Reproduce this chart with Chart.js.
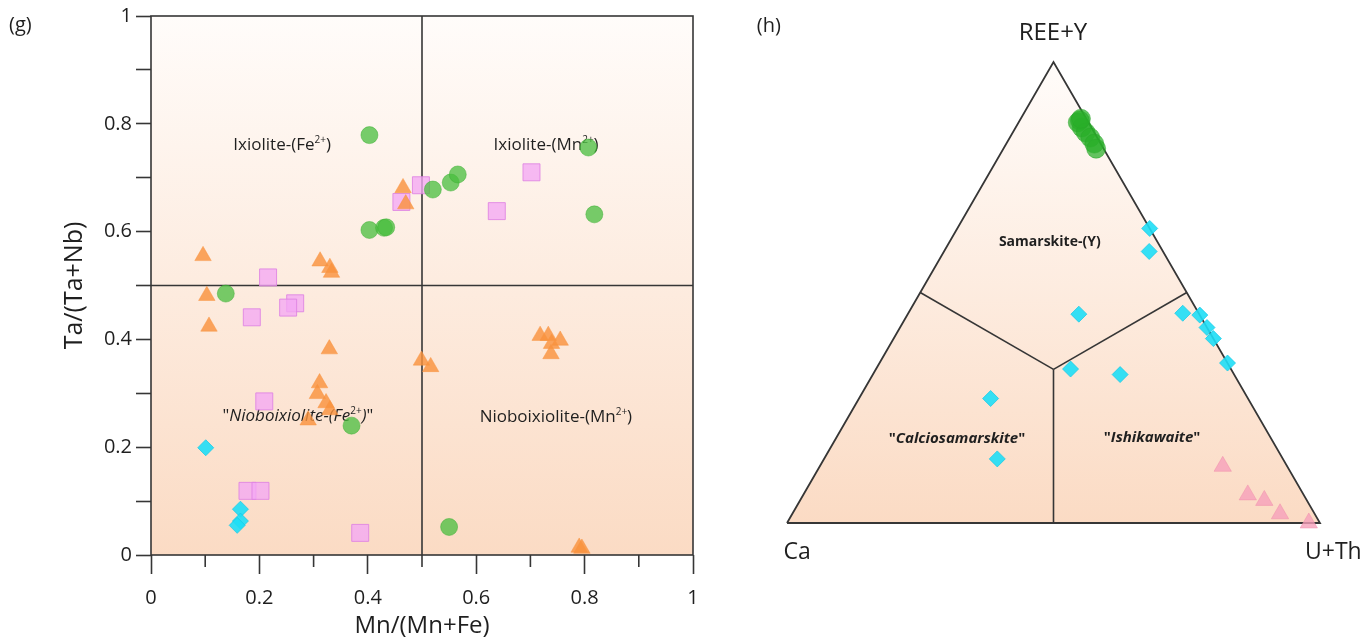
<!DOCTYPE html>
<html>
<head>
<meta charset="utf-8">
<script src="https://cdn.jsdelivr.net/npm/chart.js@4.4.1/dist/chart.umd.min.js"></script>
<style>
  html, body { margin: 0; padding: 0; background: #fff; }
  body { width: 1363px; height: 641px; position: relative; overflow: hidden; }
  #chartG { position: absolute; left: 0; top: 0; }
  #chartH { position: absolute; left: 720px; top: 0; }
</style>
</head>
<body>
<canvas id="chartG" width="720" height="641"></canvas>
<canvas id="chartH" width="643" height="641"></canvas>
<script>
// ---------- (g) data : Mn/(Mn+Fe) vs Ta/(Ta+Nb) ----------
const circleMn = [0.403, 0.520, 0.553, 0.566, 0.807, 0.818, 0.403, 0.430, 0.434, 0.138, 0.370, 0.550];
const circleTa = [0.779, 0.678, 0.691, 0.706, 0.756, 0.632, 0.603, 0.607, 0.608, 0.485, 0.240, 0.052];

const triMn = [0.465, 0.470, 0.096, 0.312, 0.330, 0.333, 0.103, 0.107, 0.329, 0.499, 0.516, 0.311,
               0.307, 0.323, 0.330, 0.290, 0.718, 0.733, 0.739, 0.755, 0.738, 0.790, 0.795];
const triTa = [0.681, 0.651, 0.555, 0.545, 0.533, 0.524, 0.481, 0.424, 0.382, 0.361, 0.349, 0.319,
               0.299, 0.282, 0.269, 0.250, 0.407, 0.407, 0.392, 0.398, 0.373, 0.014, 0.012];

const squareMn = [0.498, 0.462, 0.702, 0.638, 0.216, 0.186, 0.266, 0.253, 0.209, 0.178, 0.202, 0.386];
const squareTa = [0.686, 0.655, 0.710, 0.638, 0.515, 0.441, 0.467, 0.459, 0.285, 0.119, 0.119, 0.041];

const diamondMn = [0.101, 0.165, 0.165, 0.159];
const diamondTa = [0.199, 0.085, 0.063, 0.055];

const splitMn = 0.5;   // Fe2+ / Mn2+ boundary
const splitTa = 0.5;   // ixiolite / nioboixiolite boundary
const tickLabels = ['0', '0.2', '0.4', '0.6', '0.8', '1'];

// ---------- (h) data : Ca - (REE+Y) - (U+Th) ternary ----------
const tGreenCa  = [0.014, 0.018, 0.020, 0.016, 0.013, 0.012, 0.014, 0.010];
const tGreenREE = [0.873, 0.858, 0.869, 0.847, 0.836, 0.823, 0.812, 0.877];
const tGreenU   = [0.113, 0.124, 0.111, 0.137, 0.151, 0.165, 0.174, 0.113];

const tCyanCa  = [0.000, 0.026, 0.226, 0.030, 0.000, 0.000, 0.000, 0.000, 0.301, 0.214, 0.483, 0.536];
const tCyanREE = [0.639, 0.589, 0.453, 0.455, 0.451, 0.424, 0.400, 0.347, 0.334, 0.322, 0.270, 0.139];
const tCyanU   = [0.361, 0.385, 0.321, 0.515, 0.549, 0.576, 0.600, 0.653, 0.365, 0.464, 0.247, 0.325];

const tPinkCa  = [0.121, 0.105, 0.080, 0.065, 0.021];
const tPinkREE = [0.123, 0.061, 0.049, 0.020, 0.000];
const tPinkU   = [0.756, 0.834, 0.871, 0.915, 0.979];

// triangle corners and field boundaries, as [Ca, REE, U+Th]
const corners = [[1, 0, 0], [0, 0, 1], [0, 1, 0]];
const fieldCentre = [1 / 3, 1 / 3, 1 / 3];
const fieldEdges = [[0.5, 0.5, 0], [0, 0.5, 0.5], [0.5, 0, 0.5]];

// ---------- helpers ----------
const FONT = '"Open Sans", sans-serif';
const ink = '#1f1f1f';
const frame = '#363636';
const H = Math.sqrt(3) / 2;

const isMajor = v => Math.abs(v * 5 - Math.round(v * 5)) < 1e-6;
const tickText = v => isMajor(v) ? tickLabels[Math.round(v * 5)] : '';
const pts = (xs, ys) => xs.map((x, i) => ({ x: x, y: ys[i] }));
const tern = (ca, ree, u) => {
  const s = ca + ree + u;
  return { x: (u + ree / 2) / s, y: (ree / s) * H };
};
const ternPts = (cas, rees, us) => cas.map((c, i) => tern(c, rees[i], us[i]));

function peach(ctx, top, bottom) {
  const g = ctx.createLinearGradient(0, top, 0, bottom);
  g.addColorStop(0, 'rgb(255,252,250)');
  g.addColorStop(1, 'rgb(251,219,196)');
  return g;
}

// parts: [text, style]  style: '' normal, 'i' italic, 's' superscript
function drawRich(ctx, parts, cx, cy, size, weight) {
  const fontOf = (st) => {
    const sz = st === 's' ? Math.round(size * 0.58) : size;
    return (st === 'i' ? 'italic ' : '') + (weight || 'normal') + ' ' + sz + 'px ' + FONT;
  };
  let total = 0;
  parts.forEach(p => { ctx.font = fontOf(p[1]); total += ctx.measureText(p[0]).width; });
  let x = cx - total / 2;
  ctx.fillStyle = ink;
  ctx.textAlign = 'left';
  ctx.textBaseline = 'middle';
  parts.forEach(p => {
    ctx.font = fontOf(p[1]);
    ctx.fillText(p[0], x, p[1] === 's' ? cy - size * 0.28 : cy);
    x += ctx.measureText(p[0]).width;
  });
}

// ---------- chart (g) ----------
const gLabels = [
  { x: 0.242, y: 0.760, parts: [['Ixiolite-(Fe', ''], ['2+', 's'], [')', '']] },
  { x: 0.729, y: 0.760, parts: [['Ixiolite-(Mn', ''], ['2+', 's'], [')', '']] },
  { x: 0.271, y: 0.258, parts: [['"', ''], ['Nioboixiolite-(Fe', 'i'], ['2+', 's'], [')', 'i'], ['"', '']] },
  { x: 0.747, y: 0.256, parts: [['Nioboixiolite-(Mn', ''], ['2+', 's'], [')', '']] }
];

const gDecor = {
  id: 'gDecor',
  beforeDatasetsDraw(chart) {
    const { ctx, chartArea: a, scales } = chart;
    ctx.save();
    ctx.fillStyle = peach(ctx, a.top, a.bottom);
    ctx.fillRect(a.left, a.top, a.width, a.height);
    gLabels.forEach(l => drawRich(ctx, l.parts, scales.x.getPixelForValue(l.x), scales.y.getPixelForValue(l.y), 17));
    ctx.restore();
  },
  afterDatasetsDraw(chart) {
    const { ctx, chartArea: a, scales } = chart;
    ctx.save();
    ctx.strokeStyle = frame;
    ctx.lineWidth = 1.6;
    ctx.strokeRect(a.left, a.top, a.width, a.height);
    // short minor ticks on the x axis
    scales.x.ticks.forEach(t => {
      if (isMajor(t.value)) return;
      const px = scales.x.getPixelForValue(t.value);
      ctx.beginPath();
      ctx.moveTo(px, a.bottom);
      ctx.lineTo(px, a.bottom + 12);
      ctx.stroke();
    });
    ctx.fillStyle = ink;
    ctx.font = '20px ' + FONT;
    ctx.textAlign = 'left';
    ctx.textBaseline = 'middle';
    ctx.fillText('(g)', 9, 25);
    ctx.restore();
  }
};

new Chart(document.getElementById('chartG'), {
  type: 'scatter',
  data: {
    datasets: [
      { data: [{ x: splitMn, y: 0 }, { x: splitMn, y: 1 }], showLine: true, pointRadius: 0,
        borderColor: frame, borderWidth: 1.6, order: 10 },
      { data: [{ x: 0, y: splitTa }, { x: 1, y: splitTa }], showLine: true, pointRadius: 0,
        borderColor: frame, borderWidth: 1.6, order: 10 },
      { data: pts(squareMn, squareTa), pointStyle: 'rect', pointRadius: 12,
        backgroundColor: 'rgba(244,168,244,0.78)', borderColor: 'rgba(222,130,226,0.85)', borderWidth: 1, order: 4 },
      { data: pts(triMn, triTa), pointStyle: 'triangle', pointRadius: 9.5,
        backgroundColor: 'rgba(249,146,62,0.82)', borderColor: 'rgba(249,146,62,0.9)', borderWidth: 0.5, order: 3 },
      { data: pts(circleMn, circleTa), pointStyle: 'circle', pointRadius: 8.5,
        backgroundColor: 'rgba(72,190,62,0.75)', borderColor: 'rgba(60,175,50,0.6)', borderWidth: 0.8, order: 2 },
      { data: pts(diamondMn, diamondTa), pointStyle: 'rectRot', pointRadius: 8,
        backgroundColor: 'rgba(30,222,246,0.9)', borderColor: 'rgba(20,200,230,0.9)', borderWidth: 0.8, order: 1 }
    ]
  },
  options: {
    responsive: false,
    animation: false,
    layout: { padding: { left: 0, right: 27, top: 13, bottom: 0 } },
    plugins: { legend: { display: false }, tooltip: { enabled: false } },
    scales: {
      x: {
        type: 'linear', min: 0, max: 1,
        ticks: { stepSize: 0.1, autoSkip: false, maxRotation: 0, padding: 12, color: ink,
                 font: { family: FONT, size: 20 }, callback: v => tickText(v) },
        grid: { drawOnChartArea: false, drawTicks: true, tickLength: 19, tickWidth: 1.6,
                tickColor: c => isMajor(c.tick.value) ? frame : 'rgba(0,0,0,0)' },
        border: { display: false },
        title: { display: true, text: 'Mn/(Mn+Fe)', color: ink, font: { family: FONT, size: 24 },
                 padding: { top: 0, bottom: 0 } },
        afterFit(s) { s.height = 86; }
      },
      y: {
        type: 'linear', min: 0, max: 1,
        ticks: { stepSize: 0.1, autoSkip: false, padding: 4, color: ink,
                 font: { family: FONT, size: 20 }, callback: v => tickText(v) },
        grid: { drawOnChartArea: false, drawTicks: true, tickLength: 15, tickWidth: 1.6, tickColor: frame },
        border: { display: false },
        title: { display: true, text: 'Ta/(Ta+Nb)', color: ink, font: { family: FONT, size: 25 },
                 padding: { top: 60, bottom: 0 } },
        afterFit(s) { s.width = 151; }
      }
    }
  },
  plugins: [gDecor]
});

// ---------- chart (h) ----------
const hLabels = [
  { x: 0.493, y: 0.527, parts: [['Samarskite-(Y)', '']], size: 14, weight: 'bold' },
  { x: 0.319, y: 0.159, parts: [['"', ''], ['Calciosamarskite', 'i'], ['"', '']], size: 15, weight: 'bold' },
  { x: 0.685, y: 0.161, parts: [['"', ''], ['Ishikawaite', 'i'], ['"', '']], size: 15, weight: 'bold' },
  { x: 0.499, y: 0.921, parts: [['REE+Y', '']], size: 24 },
  { x: 0.019, y: -0.056, parts: [['Ca', '']], size: 23 },
  { x: 1.025, y: -0.056, parts: [['U+Th', '']], size: 23 },
  { x: -0.034, y: 0.934, parts: [['(h)', '']], size: 20 }
];

const hDecor = {
  id: 'hDecor',
  beforeDatasetsDraw(chart) {
    const { ctx, chartArea: a, scales } = chart;
    ctx.save();
    ctx.beginPath();
    corners.forEach((c, i) => {
      const p = tern(c[0], c[1], c[2]);
      const px = scales.x.getPixelForValue(p.x), py = scales.y.getPixelForValue(p.y);
      if (i === 0) ctx.moveTo(px, py); else ctx.lineTo(px, py);
    });
    ctx.closePath();
    ctx.fillStyle = peach(ctx, a.top, a.bottom);
    ctx.fill();
    hLabels.forEach(l => drawRich(ctx, l.parts, scales.x.getPixelForValue(l.x), scales.y.getPixelForValue(l.y), l.size, l.weight));
    ctx.restore();
  }
};

const outline = corners.concat([corners[0]]).map(c => tern(c[0], c[1], c[2]));
const boundarySets = fieldEdges.map(e => ({
  data: [tern(fieldCentre[0], fieldCentre[1], fieldCentre[2]), tern(e[0], e[1], e[2])],
  showLine: true, pointRadius: 0, borderColor: frame, borderWidth: 1.6, clip: false, order: 10
}));

new Chart(document.getElementById('chartH'), {
  type: 'scatter',
  data: {
    datasets: [
      { data: outline, showLine: true, pointRadius: 0, borderColor: frame, borderWidth: 1.8, clip: false, order: 10 },
      ...boundarySets,
      { data: ternPts(tPinkCa, tPinkREE, tPinkU), pointStyle: 'triangle', pointRadius: 10,
        backgroundColor: 'rgba(246,160,186,0.8)', borderColor: 'rgba(240,140,170,0.8)', borderWidth: 0.6, clip: false, order: 3 },
      { data: ternPts(tCyanCa, tCyanREE, tCyanU), pointStyle: 'rectRot', pointRadius: 8,
        backgroundColor: 'rgba(30,222,246,0.9)', borderColor: 'rgba(20,200,230,0.9)', borderWidth: 0.8, clip: false, order: 2 },
      { data: ternPts(tGreenCa, tGreenREE, tGreenU), pointStyle: 'circle', pointRadius: 9.5,
        backgroundColor: 'rgba(40,175,40,0.72)', borderColor: 'rgba(40,165,40,0.6)', borderWidth: 0.8, clip: false, order: 1 }
    ]
  },
  options: {
    responsive: false,
    animation: false,
    layout: { padding: { left: 67, right: 43, top: 62, bottom: 118 } },
    plugins: { legend: { display: false }, tooltip: { enabled: false } },
    scales: {
      x: { type: 'linear', min: 0, max: 1, display: false },
      y: { type: 'linear', min: 0, max: H, display: false }
    }
  },
  plugins: [hDecor]
});
</script>
</body>
</html>
